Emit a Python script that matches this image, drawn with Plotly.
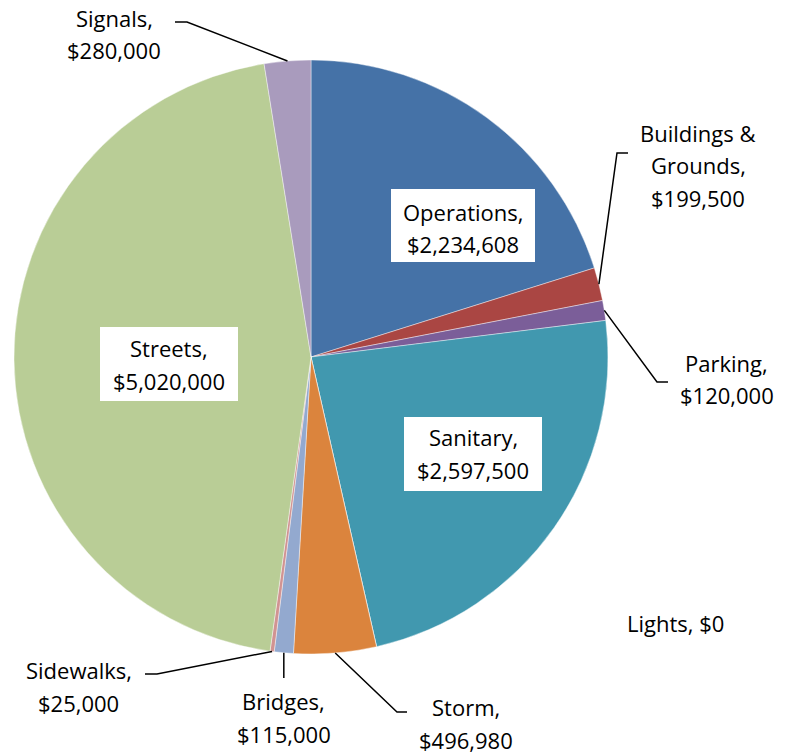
import math
import plotly.graph_objects as go

# ---- data ----
categories = ["Operations", "Buildings &\nGrounds", "Parking", "Sanitary", "Lights",
              "Storm", "Bridges", "Sidewalks", "Streets", "Signals"]
values = [2234608, 199500, 120000, 2597500, 0, 496980, 115000, 25000, 5020000, 280000]
colors = ["#4572A7", "#AA4643", "#7B5E99", "#4198AF", "#F5A35C",
          "#DB843D", "#93A9CF", "#D19392", "#B9CD96", "#A99BBD"]

# ---- layout constants (pixels) ----
W, H = 792, 756
CX, CY, R = 311, 357, 297
LINE_GAP = 32.3
FONT = dict(family="'Open Sans', Lato, sans-serif", size=22, color="black")

# first-line centre of each label (pixels)
label_pos = {
    "Operations": (463, 212.5),
    "Buildings &\nGrounds": (698, 133.5),
    "Parking": (726.5, 363.3),
    "Sanitary": (473, 438),
    "Lights": (675.5, 623.3),
    "Storm": (465.5, 708),
    "Bridges": (283.5, 702),
    "Sidewalks": (78.5, 671),
    "Streets": (169, 349),
    "Signals": (114, 18.3),
}
# white label boxes: (left, top, right, bottom) in pixels
boxes = {
    "Operations": (391, 189, 535, 262),
    "Sanitary": (404, 417, 542, 491),
    "Streets": (100, 327, 238, 401),
}
# leader-line routing after the slice anchor: list of (x, y); None = keep anchor x
leaders = {
    "Buildings &\nGrounds": [(617, 153), (628, 153)],
    "Parking": [(657, 382), (668, 382)],
    "Storm": [(397, 712), (407, 712)],
    "Bridges": [(None, 678)],
    "Sidewalks": [(157, 674), (145, 674)],
    "Signals": [(187, 22), (175, 22)],
}


def px(x):
    return x / W


def py(y):
    return 1 - y / H


fig = go.Figure(go.Pie(
    labels=[c.replace("\n", " ") for c in categories],
    values=values,
    sort=False,
    direction="clockwise",
    rotation=0,
    marker=dict(colors=colors, line=dict(color="rgba(255,255,255,0.7)", width=0.6)),
    textinfo="none",
    hoverinfo="label+value",
    domain=dict(x=[px(CX - R), px(CX + R)], y=[py(CY + R), py(CY - R)]),
))

total = sum(values)
annotations = []
shapes = []
cum = 0.0
for cat, v in zip(categories, values):
    mid = (cum + v / 2) / total * 2 * math.pi
    cum += v
    ax = CX + R * math.sin(mid)
    ay = CY - R * math.cos(mid)
    name_lines = cat.split("\n")
    money = f"${v:,.0f}"
    if v == 0:
        lines = [f"{cat}, {money}"]
    else:
        lines = name_lines[:-1] + [name_lines[-1] + ","] + [money]
    lx, ly = label_pos[cat]
    if cat in boxes:
        l, t, r, b = boxes[cat]
        shapes.append(dict(type="rect", xref="paper", yref="paper",
                           x0=px(l), x1=px(r), y0=py(b), y1=py(t),
                           fillcolor="white", line=dict(width=0), layer="above"))
    for i, ln in enumerate(lines):
        annotations.append(dict(text=ln, x=px(lx), y=py(ly + i * LINE_GAP - 0.6),
                                xref="paper", yref="paper", xanchor="center",
                                yanchor="middle", showarrow=False, font=FONT))
    if cat in leaders:
        pts = [(ax, ay)]
        for (ex, ey) in leaders[cat]:
            pts.append((ax if ex is None else ex, ey))
        path = "M " + " L ".join(f"{px(x):.5f},{py(y):.5f}" for x, y in pts)
        shapes.append(dict(type="path", xref="paper", yref="paper", path=path,
                           line=dict(color="black", width=1.5)))

fig.update_layout(
    width=W, height=H,
    margin=dict(l=0, r=0, t=0, b=0),
    paper_bgcolor="white",
    showlegend=False,
    annotations=annotations,
    shapes=shapes,
)

fig.write_html("out.html")
